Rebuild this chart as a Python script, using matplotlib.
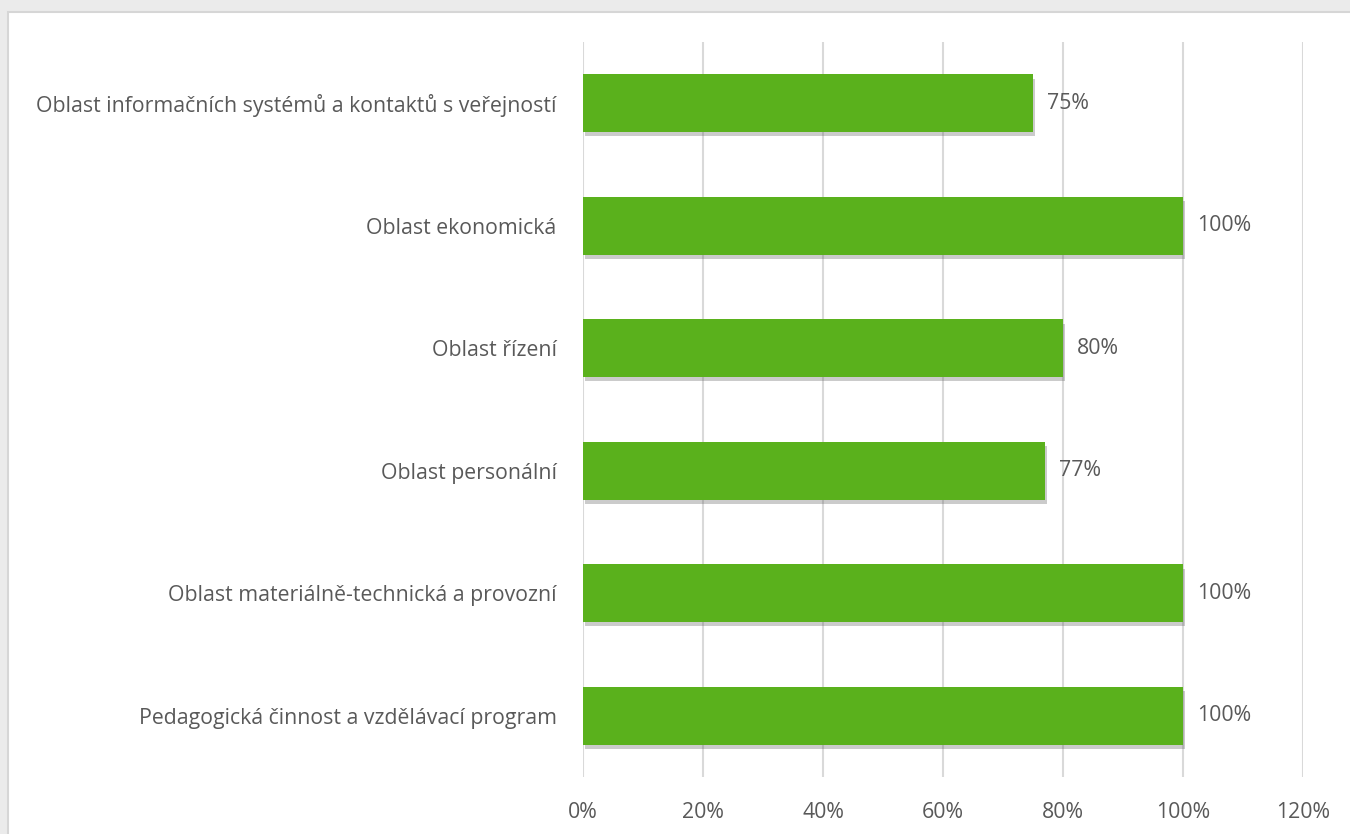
import matplotlib
matplotlib.use('Agg')
import matplotlib.pyplot as plt
import matplotlib.patheffects as pe
from matplotlib.patches import Rectangle
from matplotlib.ticker import PercentFormatter

categories = [
    'Pedagogická činnost a vzdělávací program',
    'Oblast materiálně-technická a provozní',
    'Oblast personální',
    'Oblast řízení',
    'Oblast ekonomická',
    'Oblast informačních systémů a kontaktů s veřejností',
]
values = [1.00, 1.00, 0.77, 0.80, 1.00, 0.75]
x_ticks = [0, 0.2, 0.4, 0.6, 0.8, 1.0, 1.2]

plt.rcParams['font.family'] = ['Open Sans', 'DejaVu Sans']
text_color = '#595959'
bar_color = '#5AB11C'
fsize = 15.3

fig = plt.figure(figsize=(13.5, 8.34), dpi=100, facecolor='#ebebeb')
# white chart panel behind the axes
panel = Rectangle((8 / 1350, -0.01), 1.0, 1.01 - 12 / 834, transform=fig.transFigure,
                  facecolor='white', edgecolor='#d6d6d6', linewidth=1.5, zorder=-10)
fig.add_artist(panel)

ax = fig.add_axes([583 / 1350, 1 - 777 / 834, 720 / 1350, 735 / 834])
ax.set_facecolor('none')
ax.set_zorder(1)

bars = ax.barh(range(len(categories)), values, height=0.47, color=bar_color, zorder=3)
for b in bars:
    b.set_path_effects([pe.SimplePatchShadow(offset=(1.5, -3), shadow_rgbFace='#555555', alpha=0.3),
                        pe.Normal()])

for i, v in enumerate(values):
    ax.annotate(f'{v:.0%}', (v, i), xytext=(10, 0), textcoords='offset points',
                va='center', ha='left', fontsize=fsize, color=text_color)

ax.set_xlim(0, 1.2)
ax.set_ylim(-0.5, len(categories) - 0.5)
ax.set_xticks(x_ticks)
ax.xaxis.set_major_formatter(PercentFormatter(1.0, decimals=0))
ax.set_yticks(range(len(categories)))
ax.set_yticklabels(categories)
ax.grid(axis='x', color='#d9d9d9', linewidth=1.5, zorder=0)
ax.set_axisbelow(True)
for s in ax.spines.values():
    s.set_visible(False)
ax.tick_params(axis='both', length=0, labelsize=fsize, labelcolor=text_color)
ax.tick_params(axis='x', pad=18)
ax.tick_params(axis='y', pad=19)

plt.savefig('out.png', dpi=100, facecolor=fig.get_facecolor())
